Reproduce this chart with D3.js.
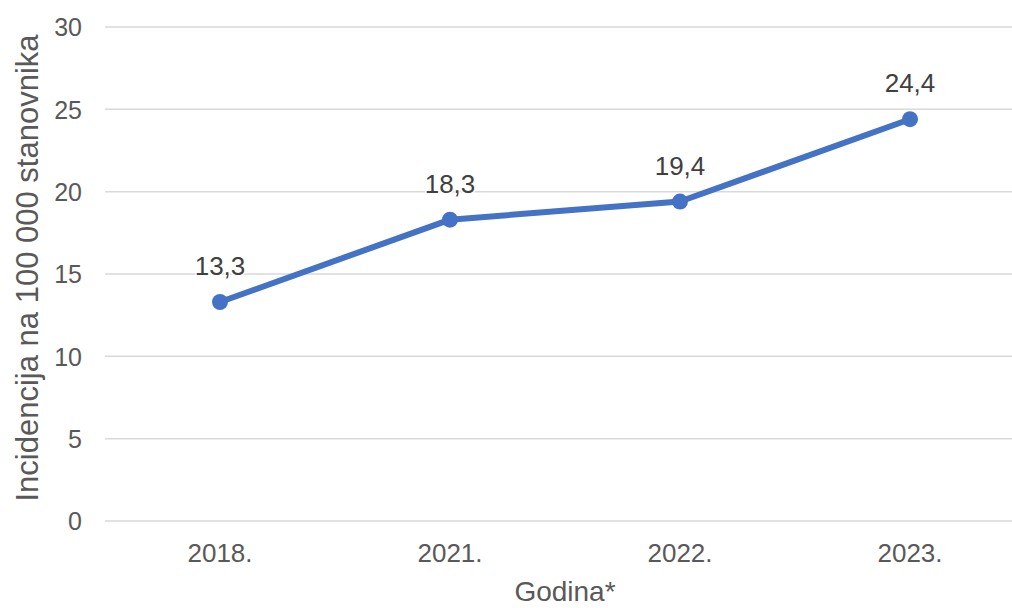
<!DOCTYPE html>
<html><head><meta charset="utf-8">
<script src="https://cdn.jsdelivr.net/npm/d3@7"></script>
<style>body{margin:0;background:#fff;}svg{display:block;font-family:Arial,"Liberation Sans",sans-serif;}</style>
</head><body>
<svg id="c" width="1012" height="608"></svg>
<script>
const categories = ["2018.", "2021.", "2022.", "2023."];
const values = [13.3, 18.3, 19.4, 24.4];
const yTicks = [0, 5, 10, 15, 20, 25, 30];

const svg = d3.select("#c");
const FONT = "Arial, 'Liberation Sans', sans-serif";
const plotLeft = 105, bandW = 230, plotTop = 27, plotBottom = 521;
const x = d3.scaleBand().domain(categories).range([plotLeft, plotLeft + bandW * categories.length]);
const y = d3.scaleLinear().domain([0, 30]).range([plotBottom, plotTop]);

// gridlines
svg.append("g").selectAll("line").data(yTicks).join("line")
  .attr("x1", plotLeft).attr("x2", 1012)
  .attr("y1", d => y(d)).attr("y2", d => y(d))
  .attr("stroke", "#d9d9d9").attr("stroke-width", 1.5);

// y axis
const yAxis = d3.axisLeft(y).tickValues(yTicks).tickSize(0).tickPadding(0).tickFormat(d3.format("d"));
const gy = svg.append("g").attr("transform", `translate(82,0)`).call(yAxis);
gy.select(".domain").remove();
gy.selectAll("text").attr("font-size", 25).attr("fill", "#595959").attr("font-family", FONT).attr("dy", "0.35em");

// x axis
const xAxis = d3.axisBottom(x).tickSize(0).tickPadding(0);
const gx = svg.append("g").attr("transform", `translate(0,${plotBottom + 32})`).call(xAxis);
gx.select(".domain").remove();
gx.selectAll("text").attr("font-size", 26).attr("fill", "#595959").attr("font-family", FONT).attr("dy", "0.35em");

const cx = d => x(d) + x.bandwidth() / 2;

// line
const pts = categories.map((c, i) => [cx(c), y(values[i])]);
svg.append("path").attr("d", d3.line()(pts))
  .attr("fill", "none").attr("stroke", "#4472C4").attr("stroke-width", 6).attr("stroke-linejoin", "round");

svg.append("g").selectAll("circle").data(pts).join("circle")
  .attr("cx", d => d[0]).attr("cy", d => d[1]).attr("r", 8).attr("fill", "#4472C4");

// data labels
svg.append("g").selectAll("text").data(values).join("text")
  .attr("x", (d, i) => cx(categories[i])).attr("y", d => y(d) - 27)
  .attr("text-anchor", "middle")
  .attr("font-size", 26).attr("fill", "#404040").attr("font-family", FONT)
  .attr("paint-order", "stroke").attr("stroke", "#fff").attr("stroke-width", 3)
  .text(d => d3.format(".1f")(d).replace(".", ","));

// axis titles
svg.append("text").attr("transform", `translate(27,268) rotate(-90)`)
  .attr("text-anchor", "middle").attr("dy", "0.35em").attr("font-size", 31).attr("fill", "#595959").attr("font-family", FONT)
  .text("Incidencija na 100 000 stanovnika");
svg.append("text").attr("x", 565).attr("y", 601).attr("text-anchor", "middle")
  .attr("font-size", 28).attr("fill", "#595959").attr("font-family", FONT).text("Godina*");
</script>
</body></html>
